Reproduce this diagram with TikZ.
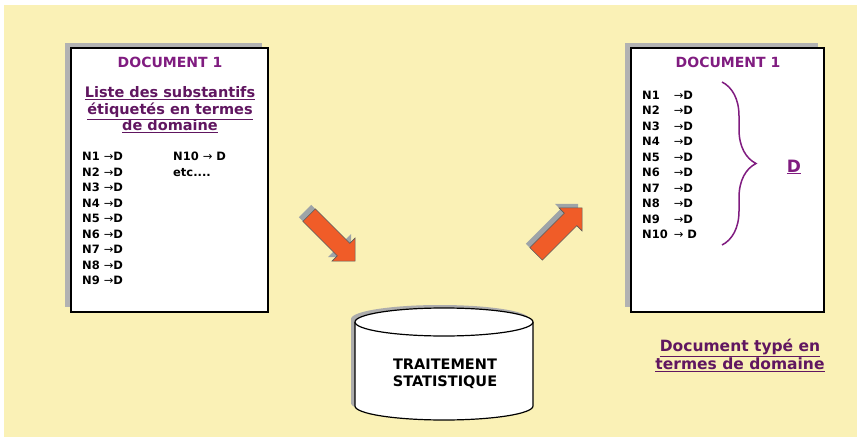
\documentclass[tikz,border=0pt]{standalone}
\usepackage{fontspec}
\setmainfont{DejaVu Sans}
\usepackage{xcolor}
\usepackage{tikz}
\usetikzlibrary{positioning, shapes.geometric, shapes.arrows, decorations.pathreplacing}
\definecolor{bgyellow}{RGB}{250,241,182}
\definecolor{docpurple}{RGB}{128,28,128}
\definecolor{headpurple}{RGB}{96,22,96}
\definecolor{arroworange}{RGB}{240,92,40}
\definecolor{shadowgray}{RGB}{158,164,168}

\begin{document}
\begin{tikzpicture}[
  x=1pt, y=-1pt,
  every node/.style={inner sep=0pt},
  doc/.style={draw=black, line width=2pt, fill=white, minimum width=197pt, minimum height=264pt},
  docshadow/.style={fill=gray!60, minimum width=197pt, minimum height=264pt},
  title/.style={text=docpurple, font=\bfseries\fontsize{14}{16}\selectfont},
  heading/.style={text=headpurple, align=center, font=\bfseries\fontsize{14.5}{16.5}\selectfont},
  items/.style={align=left, font=\bfseries\fontsize{11.5}{15.5}\selectfont},
  bigarrow/.style={single arrow, fill=arroworange, draw=black!65, line width=0.6pt,
    minimum height=65pt, minimum width=32pt, single arrow head extend=7.5pt, inner sep=8.5pt},
  arrowshadow/.style={single arrow, fill=shadowgray, draw=none,
    minimum height=65pt, minimum width=32pt, single arrow head extend=7.5pt, inner sep=8.5pt},
  drum/.style={line width=1.2pt}
]

% Background
\useasboundingbox (0,0) rectangle (859,438);
\fill[bgyellow] (4,5) rectangle (857,437);

% Left document
\node[docshadow] (doc1shadow) at (163,175) {};
\node[doc] (doc1) at (169,180) {};
\node[title] (doc1title) at (170,62) {DOCUMENT 1};
\node[heading] (doc1head) at (170,110)
  {\underline{Liste des substantifs}\\ \underline{étiquetés en termes}\\ \underline{de domaine}};
\node[items, anchor=north west] (doc1list) at (82,152)
  {N1 {\mdseries →}D\\ N2 {\mdseries →}D\\ N3 {\mdseries →}D\\ N4 {\mdseries →}D\\ N5 {\mdseries →}D\\
   N6 {\mdseries →}D\\ N7 {\mdseries →}D\\ N8 {\mdseries →}D\\ N9 {\mdseries →}D};
\node[items, anchor=north west] (doc1more) at (173,152)
  {N10 {\mdseries →} D\\ etc....};

% Arrows in and out
\node[arrowshadow, rotate=-45] (inshadow) at (325,231) {};
\node[bigarrow, rotate=-45] (inarrow) at (329,235) {};
\node[arrowshadow, rotate=45] (outshadow) at (552,230) {};
\node[bigarrow, rotate=45] (outarrow) at (556,234) {};

% Processing drum
\fill[gray!65, shift={(-4,-3)}] (355,322) -- (355,406) arc[start angle=180, end angle=0, x radius=89, y radius=14]
  -- (533,322) arc[start angle=0, end angle=-180, x radius=89, y radius=14] -- cycle;
\filldraw[drum, fill=white] (355,322) -- (355,406) arc[start angle=180, end angle=0, x radius=89, y radius=14]
  -- (533,322);
\filldraw[drum, fill=white] (444,322) ellipse[x radius=89, y radius=14];
\node[font=\bfseries\fontsize{14.5}{17}\selectfont, align=center] (proc) at (445,374) {TRAITEMENT\\ STATISTIQUE};

% Right document
\node[docshadow, minimum width=193pt] (doc2shadow) at (721,175) {};
\node[doc, minimum width=193pt] (doc2) at (727,180) {};
\node[title] (doc2title) at (728,62) {DOCUMENT 1};
\node[items, anchor=north west] (doc2list) at (642,88)
  {\begin{tabular}{@{}l@{\hspace{6pt}}l@{}}
   N1 & {\mdseries →}D\\ N2 & {\mdseries →}D\\ N3 & {\mdseries →}D\\ N4 & {\mdseries →}D\\ N5 & {\mdseries →}D\\
   N6 & {\mdseries →}D\\ N7 & {\mdseries →}D\\ N8 & {\mdseries →}D\\ N9 & {\mdseries →}D\\ N10 & {\mdseries →} D
   \end{tabular}};
\coordinate (bracetop) at (722,82);
\coordinate (bracebot) at (722,245);
\draw[docpurple, line width=1.5pt, decorate, decoration={brace, amplitude=34pt}] (bracetop) -- (bracebot);
\node[text=docpurple, font=\bfseries\fontsize{17}{20}\selectfont] (domain) at (794,167) {\underline{D}};

% Caption
\node[heading, text=headpurple, font=\bfseries\fontsize{15.5}{17}\selectfont] (doc2caption) at (740,355)
  {\underline{Document typé en}\\ \underline{termes de domaine}};

\end{tikzpicture}
\end{document}
